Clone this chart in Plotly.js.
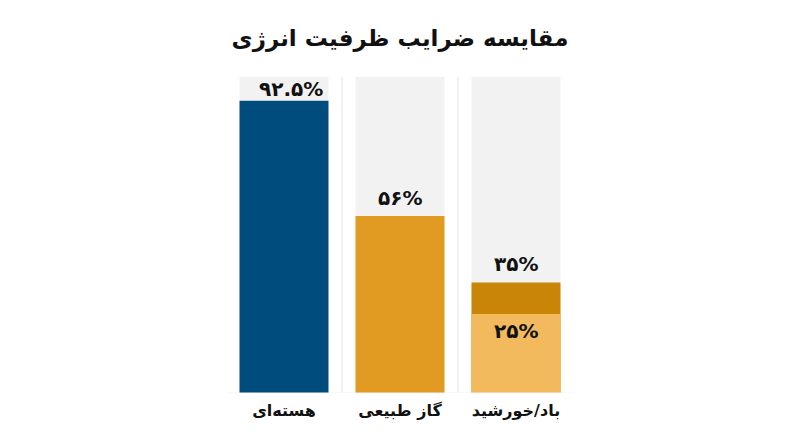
<!DOCTYPE html>
<html>
<head>
<meta charset="utf-8">
<script src="https://cdn.plot.ly/plotly-3.0.1.min.js"></script>
<style>
  body { margin: 0; background: #fff; }
  #chart { width: 800px; height: 447px; }
</style>
</head>
<body>
<div id="chart"></div>
<script>
// data
const categories = ['هسته‌ای', 'گاز طبیعی', 'باد/خورشید'];
const fullScale = [100, 100, 100];
const topValues = [92.5, 56, 35];      // upper value of each column
const lowValues = [null, null, 25];    // lower bound for wind/solar
const topLabels = ['۹۲.۵%', '۵۶%', '۳۵%'];
const lowLabels = [null, null, '۲۵%'];

const barColors = ['#004c7d', '#e29b22', '#c98508'];
const lowColor = '#f3ba5d';
const bgColor = '#f2f2f2';
const fontFam = '"DejaVu Sans", sans-serif';

const xs = [0, 1, 2];

const traces = [
  { x: xs, y: fullScale, type: 'bar', marker: { color: bgColor }, hoverinfo: 'skip' },
  { x: xs, y: topValues, type: 'bar', marker: { color: barColors }, hoverinfo: 'skip' },
  { x: xs, y: lowValues, type: 'bar', marker: { color: lowColor }, hoverinfo: 'skip' }
];

// value labels
let annotations = [];
topValues.forEach((v, i) => {
  if (i === 0) {
    // nuclear: right aligned in the grey area above the bar
    annotations.push({ x: i + 0.35, y: v, xref: 'x', yref: 'y', text: topLabels[i],
      showarrow: false, xanchor: 'right', yanchor: 'bottom', yshift: -2,
      font: { family: fontFam, size: 20, color: '#111' } });
  } else {
    annotations.push({ x: i, y: v, xref: 'x', yref: 'y', text: topLabels[i],
      showarrow: false, xanchor: 'center', yanchor: 'bottom', yshift: 4,
      font: { family: fontFam, size: 20, color: '#111' } });
  }
});
lowValues.forEach((v, i) => {
  if (v === null) return;
  annotations.push({ x: i, y: v, xref: 'x', yref: 'y', text: lowLabels[i],
    showarrow: false, xanchor: 'center', yanchor: 'top', yshift: -3,
    font: { family: fontFam, size: 20, color: '#111' } });
});

// faint separators between columns
const shapes = [0.5, 1.5].map(p => ({
  type: 'line', xref: 'x', yref: 'y', x0: p, x1: p, y0: 0, y1: 100,
  line: { color: '#ececec', width: 1.5 }
}));
shapes.push({ type: 'line', xref: 'x', yref: 'y', x0: -0.5, x1: 2.5, y0: 0, y1: 0,
  line: { color: '#f0f0f0', width: 1 } });

const layout = {
  width: 800, height: 447,
  margin: { l: 226, r: 226, t: 77, b: 54 },
  paper_bgcolor: '#fff', plot_bgcolor: '#fff',
  barmode: 'overlay', bargap: 0.233,
  showlegend: false,
  title: { text: 'مقایسه ضرایب ظرفیت انرژی', x: 0.5, xanchor: 'center', y: 0.915, yanchor: 'middle',
    font: { family: fontFam, size: 23, color: '#111', weight: 'bold' } },
  xaxis: {
    range: [-0.5, 2.5], tickvals: xs, ticktext: categories,
    showgrid: false, zeroline: false, showline: false, ticks: '',
    ticklabelstandoff: 6,
    tickfont: { family: fontFam, size: 16, color: '#111', weight: 'bold' }
  },
  yaxis: { range: [0, 100], visible: false, fixedrange: true },
  annotations: annotations,
  shapes: shapes,
  font: { family: fontFam, weight: 'bold' }
};

Plotly.newPlot('chart', traces, layout, { displayModeBar: false, staticPlot: true });
</script>
</body>
</html>
